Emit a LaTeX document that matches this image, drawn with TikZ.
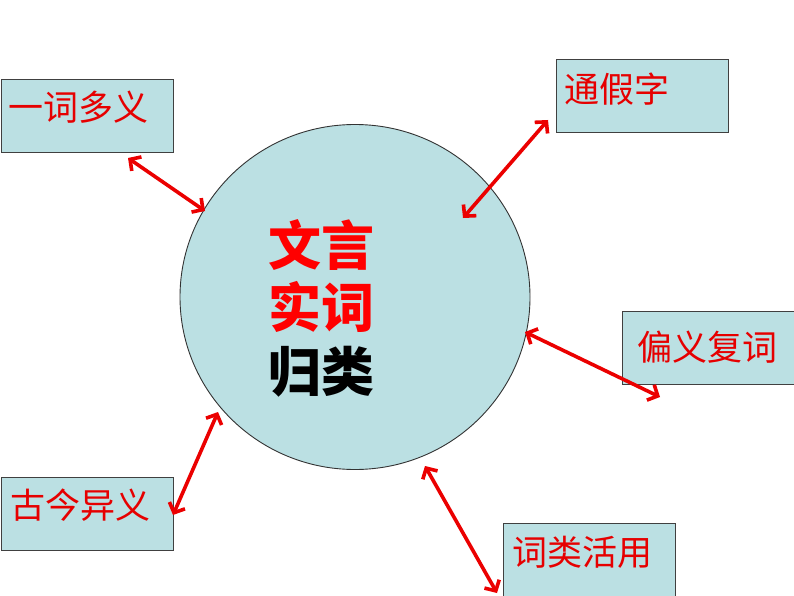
\documentclass[tikz,border=0pt]{standalone}
\usepackage{fontspec}
\newfontfamily\cjk{Noto Sans CJK SC}
\usetikzlibrary{arrows.meta,shapes.geometric}
\definecolor{boxfill}{RGB}{187,224,227}
\definecolor{txtred}{RGB}{230,0,0}
\definecolor{arrred}{RGB}{235,0,0}
\tikzset{
  infobox/.style={draw=black!75, line width=1pt, fill=boxfill, minimum width=172pt, minimum height=73pt, inner sep=0pt, anchor=north west},
  infotext/.style={anchor=west, inner sep=0pt, text=txtred, font=\cjk\fontsize{35}{35}\selectfont},
  title/.style={inner sep=0pt, font=\cjk\bfseries\fontsize{53}{53}\selectfont},
  link/.style={draw=arrred, line width=3.6pt, {Straight Barb[length=8pt,width=17pt]}-{Straight Barb[length=8pt,width=17pt]}},
}
\begin{document}
\begin{tikzpicture}[x=1pt,y=-1pt]
\useasboundingbox (0,0) rectangle (794,596);
\fill[white] (0,0) rectangle (794,596);
% circle
\node (c) [draw=black!80, line width=0.9pt, fill=boxfill, ellipse, minimum width=350pt, minimum height=345pt, inner sep=0pt] at (355,297) {};
\node (t1) [title, text=red] at (321,245) {文言};
\node (t2) [title, text=red] at (321,307) {实词};
\node (t3) [title, text=black] at (321,372) {归类};
% boxes
\node (b1) [infobox] at (1,79) {};
\node (l1) [infotext] at (8,107) {一词多义};
\node (b2) [infobox] at (556,59) {};
\node (l2) [infotext] at (564,89) {通假字};
\node (b3) [infobox, minimum width=180pt] at (622,311) {};
\node (l3) [infotext] at (637,347) {偏义复词};
\node (b4) [infobox] at (1,477) {};
\node (l4) [infotext] at (10,505) {古今异义};
\node (b5) [infobox, minimum height=80pt] at (503,523) {};
\node (l5) [infotext] at (512,552) {词类活用};
% arrow end points
\coordinate (a1s) at (128,158); \coordinate (a1e) at (205,211);
\coordinate (a2s) at (548,120); \coordinate (a2e) at (463,218);
\coordinate (a3s) at (525,332); \coordinate (a3e) at (660,397);
\coordinate (a4s) at (218,412); \coordinate (a4e) at (173,515);
\coordinate (a5s) at (425,466); \coordinate (a5e) at (497,593);
\draw[link] (a1s) -- (a1e);
\draw[link] (a2s) -- (a2e);
\draw[link] (a3s) -- (a3e);
\draw[link] (a4s) -- (a4e);
\draw[link] (a5s) -- (a5e);
\end{tikzpicture}
\end{document}
